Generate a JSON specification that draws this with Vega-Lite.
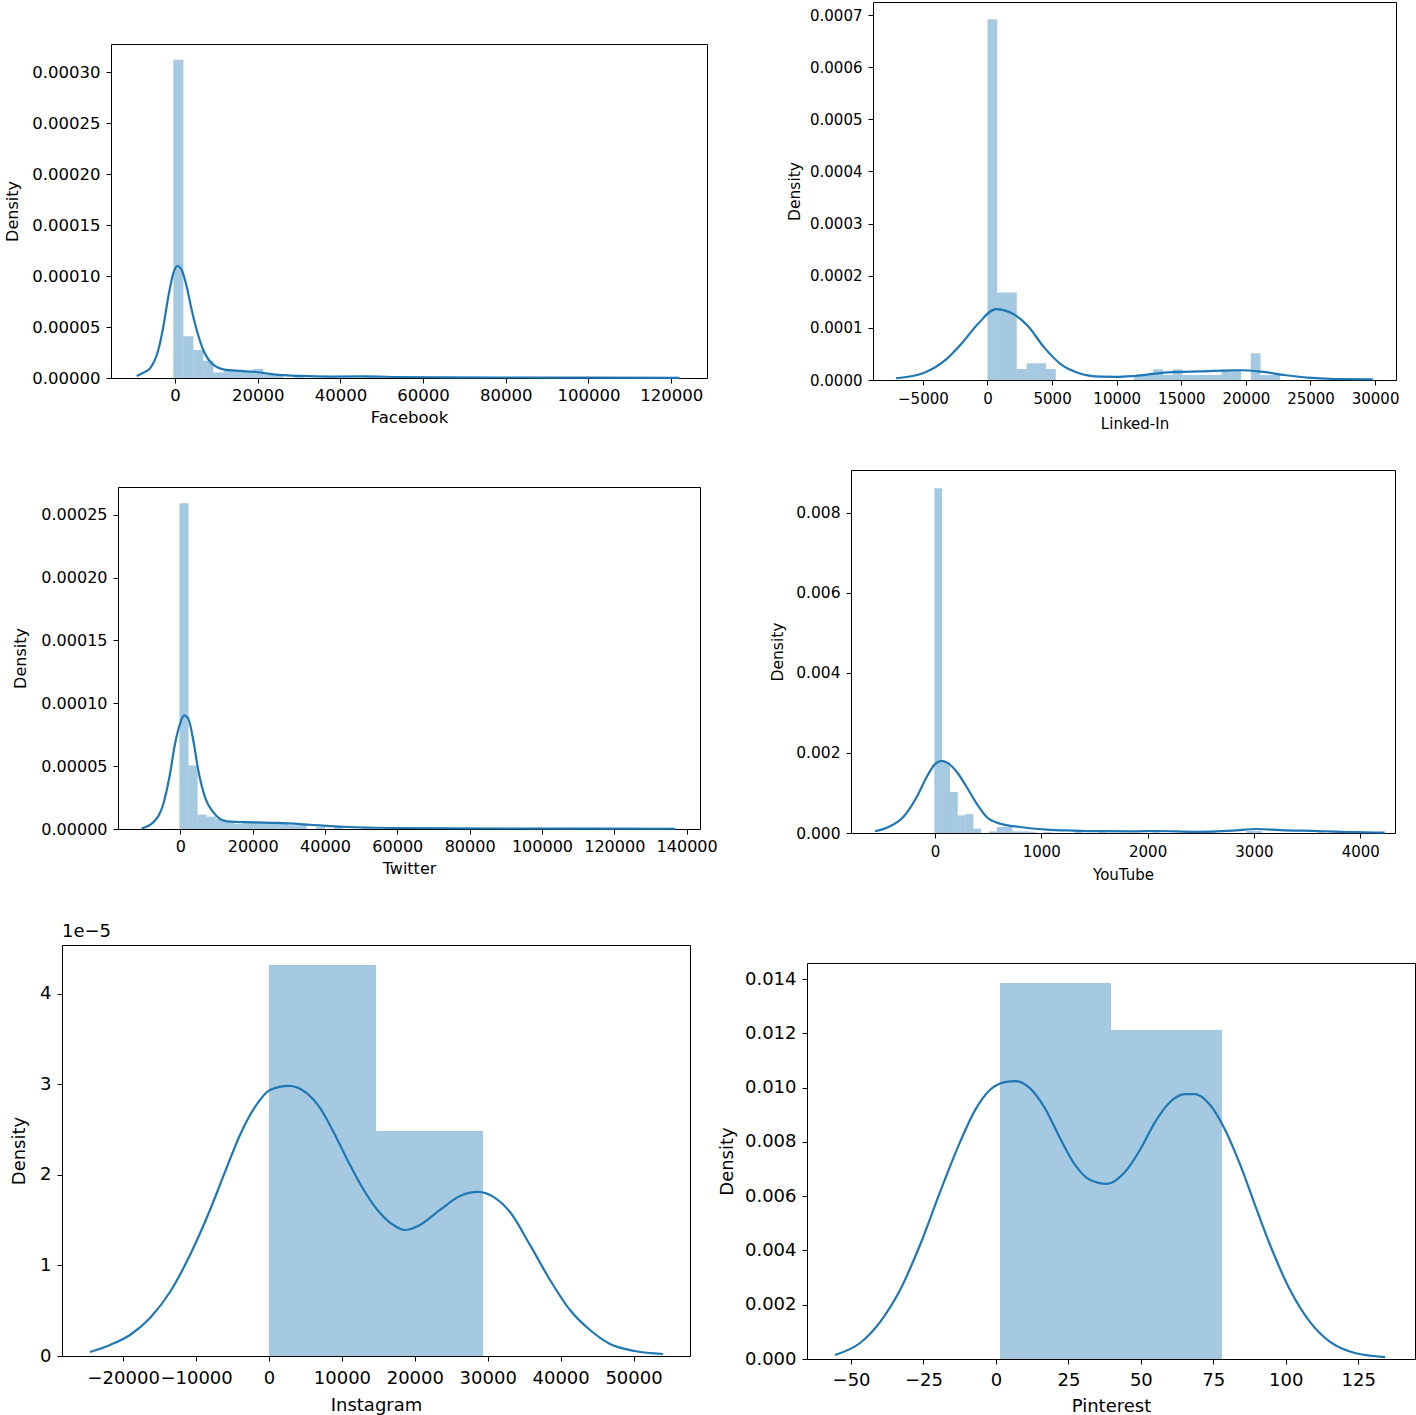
{
"$schema": "https://vega.github.io/schema/vega-lite/v6.json",
"padding": 0,
"background": "white",
"config": {
 "font": "DejaVu Sans",
 "view": {"stroke": "#000", "strokeWidth": 1},
 "axis": {"grid": false, "domain": false, "tickColor": "#000", "tickSize": 5, "labelColor": "#000", "titleColor": "#000", "labelFontSize": 16, "titleFontSize": 16, "titleFontWeight": "normal", "labelFlush": false, "labelOverlap": false, "labelPadding": 4, "titlePadding": 6, "labelFont": "DejaVu Sans", "titleFont": "DejaVu Sans"},
 "axisY": {"labelPadding": 6},
 "title": {"fontWeight": "normal", "color": "#000", "font": "DejaVu Sans"}
},
"datasets": {
 "none": [],
 "fb_hist": [
  {"x0": -400, "x1": 2020, "d": 0.000312},
  {"x0": 2020, "x1": 4440, "d": 0.000041},
  {"x0": 4440, "x1": 6860, "d": 0.0000275},
  {"x0": 6860, "x1": 9280, "d": 0.000017},
  {"x0": 9280, "x1": 11700, "d": 0.0000055},
  {"x0": 11700, "x1": 14120, "d": 0.000007},
  {"x0": 14120, "x1": 16540, "d": 0.000007},
  {"x0": 16540, "x1": 18960, "d": 0.000006},
  {"x0": 18960, "x1": 21380, "d": 0.000009},
  {"x0": 21380, "x1": 23800, "d": 0.000003},
  {"x0": 23800, "x1": 26220, "d": 0.000002},
  {"x0": 28640, "x1": 31060, "d": 0.000001},
  {"x0": 35900, "x1": 38320, "d": 0.000001},
  {"x0": 45580, "x1": 48000, "d": 0.000002},
  {"x0": 60100, "x1": 62520, "d": 0.000001},
  {"x0": 79460, "x1": 81880, "d": 0.000001},
  {"x0": 98820, "x1": 101240, "d": 0.000001},
  {"x0": 118180, "x1": 120600, "d": 0.000001}
 ],
 "fb_kde": [
  {"x0": -9262, "d": 0.000002}, {"x0": -7500, "d": 0.0000055}, {"x0": -6046, "d": 0.0000095}, {"x0": -4039, "d": 0.0000275},
  {"x0": -2830, "d": 0.0000503}, {"x0": -1620, "d": 0.0000797}, {"x0": -411, "d": 0.0001026}, {"x0": 556, "d": 0.0001098},
  {"x0": 1620, "d": 0.0001059}, {"x0": 2830, "d": 0.0000895}, {"x0": 4039, "d": 0.0000667}, {"x0": 5248, "d": 0.0000471},
  {"x0": 6844, "d": 0.0000275}, {"x0": 8875, "d": 0.0000144}, {"x0": 11681, "d": 0.0000085}, {"x0": 15719, "d": 0.0000069},
  {"x0": 18936, "d": 0.0000062}, {"x0": 23772, "d": 0.0000036}, {"x0": 30230, "d": 0.000002}, {"x0": 38000, "d": 0.0000013},
  {"x0": 46000, "d": 0.0000015}, {"x0": 54000, "d": 0.000001}, {"x0": 65000, "d": 0.0000007}, {"x0": 80000, "d": 0.0000005},
  {"x0": 100000, "d": 0.0000003}, {"x0": 122000, "d": 0.0000002}
 ],
 "li_hist": [
  {"x0": 0, "x1": 754.7, "d": 0.000692},
  {"x0": 754.7, "x1": 1509.4, "d": 0.000168},
  {"x0": 1509.4, "x1": 2264.1, "d": 0.000168},
  {"x0": 2264.1, "x1": 3018.8, "d": 0.000021},
  {"x0": 3018.8, "x1": 3773.5, "d": 0.000032},
  {"x0": 3773.5, "x1": 4528.2, "d": 0.000032},
  {"x0": 4528.2, "x1": 5282.9, "d": 0.000021},
  {"x0": 11320.5, "x1": 12075.2, "d": 0.0000096},
  {"x0": 12075.2, "x1": 12829.9, "d": 0.0000096},
  {"x0": 12829.9, "x1": 13584.6, "d": 0.0000205},
  {"x0": 13584.6, "x1": 14339.3, "d": 0.0000096},
  {"x0": 14339.3, "x1": 15094, "d": 0.0000205},
  {"x0": 15094, "x1": 15848.7, "d": 0.0000096},
  {"x0": 15848.7, "x1": 16603.4, "d": 0.0000096},
  {"x0": 16603.4, "x1": 17358.1, "d": 0.0000096},
  {"x0": 17358.1, "x1": 18112.8, "d": 0.0000096},
  {"x0": 18112.8, "x1": 18867.5, "d": 0.0000205},
  {"x0": 18867.5, "x1": 19622.2, "d": 0.0000205},
  {"x0": 20376.9, "x1": 21131.6, "d": 0.0000513},
  {"x0": 21131.6, "x1": 21886.3, "d": 0.0000096},
  {"x0": 21886.3, "x1": 22641, "d": 0.0000096}
 ],
 "li_kde": [
  {"x0": -7082, "d": 0.0000033}, {"x0": -4892, "d": 0.000014}, {"x0": -3344, "d": 0.0000365}, {"x0": -2051, "d": 0.0000687},
  {"x0": -759, "d": 0.000107}, {"x0": 658, "d": 0.000136}, {"x0": 1819, "d": 0.000129}, {"x0": 3111, "d": 0.000104},
  {"x0": 4396, "d": 0.0000621}, {"x0": 5689, "d": 0.00003}, {"x0": 6981, "d": 0.000014}, {"x0": 8785, "d": 0.0000063},
  {"x0": 10000, "d": 0.000006}, {"x0": 11339, "d": 0.0000077}, {"x0": 13947, "d": 0.0000148}, {"x0": 16525, "d": 0.0000167},
  {"x0": 19621, "d": 0.0000187}, {"x0": 21169, "d": 0.000016}, {"x0": 22972, "d": 0.0000096}, {"x0": 24783, "d": 0.0000044},
  {"x0": 26819, "d": 0.0000019}, {"x0": 29814, "d": 0.0000013}
 ],
 "tw_hist": [
  {"x0": -250, "x1": 2265, "d": 0.000259},
  {"x0": 2265, "x1": 4780, "d": 0.0000505},
  {"x0": 4780, "x1": 7295, "d": 0.0000114},
  {"x0": 7295, "x1": 9810, "d": 0.0000098},
  {"x0": 9810, "x1": 12325, "d": 0.000008},
  {"x0": 12325, "x1": 14840, "d": 0.0000053},
  {"x0": 14840, "x1": 17355, "d": 0.000004},
  {"x0": 17355, "x1": 19870, "d": 0.000005},
  {"x0": 19870, "x1": 22385, "d": 0.000006},
  {"x0": 22385, "x1": 24900, "d": 0.000005},
  {"x0": 24900, "x1": 27415, "d": 0.000004},
  {"x0": 27415, "x1": 29930, "d": 0.000004},
  {"x0": 29930, "x1": 32445, "d": 0.000003},
  {"x0": 32445, "x1": 34960, "d": 0.000003},
  {"x0": 37475, "x1": 39990, "d": 0.000002},
  {"x0": 42505, "x1": 45020, "d": 0.000002},
  {"x0": 50050, "x1": 52565, "d": 0.000001},
  {"x0": 60110, "x1": 62625, "d": 0.000001},
  {"x0": 77715, "x1": 80230, "d": 0.000001},
  {"x0": 97835, "x1": 100350, "d": 0.000001},
  {"x0": 122985, "x1": 125500, "d": 0.000001}
 ],
 "tw_kde": [
  {"x0": -10678, "d": 0.0000005}, {"x0": -7469, "d": 0.0000053}, {"x0": -4703, "d": 0.0000199}, {"x0": -2849, "d": 0.0000439},
  {"x0": -1466, "d": 0.0000678}, {"x0": -83, "d": 0.0000837}, {"x0": 1024, "d": 0.0000903}, {"x0": 2213, "d": 0.0000877},
  {"x0": 3596, "d": 0.0000704}, {"x0": 4979, "d": 0.0000465}, {"x0": 6833, "d": 0.0000252}, {"x0": 9129, "d": 0.0000132},
  {"x0": 12836, "d": 0.0000061}, {"x0": 20194, "d": 0.0000053}, {"x0": 26667, "d": 0.0000048}, {"x0": 35878, "d": 0.0000034},
  {"x0": 45090, "d": 0.0000018}, {"x0": 60775, "d": 0.0000008}, {"x0": 88437, "d": 0.0000004}, {"x0": 116100, "d": 0.0000003},
  {"x0": 136850, "d": 0.0000002}
 ],
 "yt_hist": [
  {"x0": -6, "x1": 67.4, "d": 0.00861},
  {"x0": 67.4, "x1": 140.8, "d": 0.00177},
  {"x0": 140.8, "x1": 214.2, "d": 0.001025},
  {"x0": 214.2, "x1": 287.6, "d": 0.00044},
  {"x0": 287.6, "x1": 361, "d": 0.000475},
  {"x0": 361, "x1": 434.4, "d": 0.00011},
  {"x0": 507.8, "x1": 581.2, "d": 0.00004},
  {"x0": 581.2, "x1": 654.6, "d": 0.00015},
  {"x0": 654.6, "x1": 728, "d": 0.00015},
  {"x0": 728, "x1": 801.4, "d": 0.00004},
  {"x0": 801.4, "x1": 874.8, "d": 0.00004},
  {"x0": 874.8, "x1": 948.2, "d": 0.00003},
  {"x0": 1021.6, "x1": 1095, "d": 0.00002},
  {"x0": 1315.2, "x1": 1388.6, "d": 0.00003},
  {"x0": 1535.4, "x1": 1608.8, "d": 0.00002},
  {"x0": 2049.2, "x1": 2122.6, "d": 0.00004},
  {"x0": 2563, "x1": 2636.4, "d": 0.00002},
  {"x0": 2930, "x1": 3003.4, "d": 0.00005},
  {"x0": 3003.4, "x1": 3076.8, "d": 0.00005},
  {"x0": 3590.6, "x1": 3664, "d": 0.00003}
 ],
 "yt_kde": [
  {"x0": -564, "d": 0.0000425}, {"x0": -423, "d": 0.000168}, {"x0": -298, "d": 0.0004}, {"x0": -172, "d": 0.0009},
  {"x0": -78, "d": 0.0014}, {"x0": 0, "d": 0.00172}, {"x0": 63, "d": 0.0018}, {"x0": 125, "d": 0.00174},
  {"x0": 204, "d": 0.00153}, {"x0": 298, "d": 0.00115}, {"x0": 392, "d": 0.000735}, {"x0": 486, "d": 0.0004},
  {"x0": 611, "d": 0.000235}, {"x0": 800, "d": 0.00015}, {"x0": 1051, "d": 0.000085}, {"x0": 1300, "d": 0.00006},
  {"x0": 1550, "d": 0.000045}, {"x0": 1850, "d": 0.00004}, {"x0": 2100, "d": 0.00005}, {"x0": 2450, "d": 0.00003},
  {"x0": 2800, "d": 0.00006}, {"x0": 3030, "d": 0.0001}, {"x0": 3250, "d": 0.00007}, {"x0": 3600, "d": 0.00005},
  {"x0": 3950, "d": 0.00002}, {"x0": 4230, "d": 0.00001}
 ],
 "ig_hist": [
  {"x0": 0, "x1": 14680, "d": 0.0000432},
  {"x0": 14680, "x1": 29355, "d": 0.00002486}
 ],
 "ig_kde": [
  {"x0": -24554, "d": 0.00000044}, {"x0": -21811, "d": 0.00000122}, {"x0": -19067, "d": 0.00000232}, {"x0": -16324, "d": 0.0000042},
  {"x0": -13580, "d": 0.00000707}, {"x0": -10837, "d": 0.00001116}, {"x0": -8093, "d": 0.00001613}, {"x0": -6036, "d": 0.00002033},
  {"x0": -3978, "d": 0.00002442}, {"x0": -1920, "d": 0.00002751}, {"x0": 137, "d": 0.00002939}, {"x0": 2743, "d": 0.00002983},
  {"x0": 4938, "d": 0.00002917}, {"x0": 6996, "d": 0.0000274}, {"x0": 9053, "d": 0.00002442}, {"x0": 11111, "d": 0.0000211},
  {"x0": 13169, "d": 0.00001812}, {"x0": 15226, "d": 0.0000158}, {"x0": 17284, "d": 0.00001436}, {"x0": 18656, "d": 0.00001392},
  {"x0": 20713, "d": 0.00001448}, {"x0": 23457, "d": 0.00001613}, {"x0": 26200, "d": 0.00001768}, {"x0": 28669, "d": 0.00001812},
  {"x0": 31001, "d": 0.00001746}, {"x0": 33059, "d": 0.00001591}, {"x0": 35802, "d": 0.00001227}, {"x0": 38546, "d": 0.0000084},
  {"x0": 41289, "d": 0.00000508}, {"x0": 44033, "d": 0.00000287}, {"x0": 46776, "d": 0.00000133}, {"x0": 50206, "d": 0.00000055},
  {"x0": 54047, "d": 0.00000022}
 ],
 "pi_hist": [
  {"x0": 1.4, "x1": 39.7, "d": 0.01385},
  {"x0": 39.7, "x1": 78.0, "d": 0.01212}
 ],
 "pi_kde": [
  {"x0": -55.6, "d": 0.000147}, {"x0": -46.9, "d": 0.000589}, {"x0": -40.0, "d": 0.00136}, {"x0": -33.1, "d": 0.00254},
  {"x0": -26.2, "d": 0.0042}, {"x0": -19.3, "d": 0.00615}, {"x0": -12.4, "d": 0.00799}, {"x0": -7.2, "d": 0.00917},
  {"x0": -2.1, "d": 0.00991}, {"x0": 3.1, "d": 0.0102}, {"x0": 6.9, "d": 0.01024}, {"x0": 11.7, "d": 0.00998},
  {"x0": 16.9, "d": 0.00924}, {"x0": 22.1, "d": 0.00814}, {"x0": 27.3, "d": 0.00715}, {"x0": 32.4, "d": 0.0066},
  {"x0": 38.3, "d": 0.00645}, {"x0": 44.5, "d": 0.00689}, {"x0": 49.7, "d": 0.0077}, {"x0": 54.9, "d": 0.00873},
  {"x0": 60.1, "d": 0.00947}, {"x0": 65.2, "d": 0.00976}, {"x0": 68.7, "d": 0.00976}, {"x0": 73.9, "d": 0.00936},
  {"x0": 79.1, "d": 0.00844}, {"x0": 84.3, "d": 0.00715}, {"x0": 89.4, "d": 0.00567}, {"x0": 94.6, "d": 0.0042},
  {"x0": 101.5, "d": 0.00254}, {"x0": 108.4, "d": 0.00136}, {"x0": 115.3, "d": 0.00063}, {"x0": 123.9, "d": 0.00022},
  {"x0": 134.3, "d": 0.00007}
 ]
},
"spacing": 0,
"vconcat": [
 {"spacing": 0, "hconcat": [
  {"bounds": "flush", "spacing": 0, "hconcat": [
   {"width": 111, "height": 1, "data": {"name": "none"}, "mark": "point", "view": {"stroke": null}},
   {"bounds": "flush", "spacing": 0, "vconcat": [
    {"width": 1, "height": 44, "data": {"name": "none"}, "mark": "point", "view": {"stroke": null}},
    {"width": 596, "height": 334,
     "encoding": {
      "x": {"field": "x0", "type": "quantitative", "scale": {"domain": [-15480, 128660], "nice": false, "zero": false}, "axis": {"title": "Facebook", "values": [0, 20000, 40000, 60000, 80000, 100000, 120000], "format": "d", "labelFontSize": 16.5, "titleFontSize": 16.5}},
      "y": {"field": "d", "type": "quantitative", "scale": {"domain": [0, 0.0003275], "nice": false, "zero": false}, "axis": {"title": "Density", "values": [0, 0.00005, 0.0001, 0.00015, 0.0002, 0.00025, 0.0003], "format": ".5f", "titlePadding": 11, "labelFontSize": 16.5, "titleFontSize": 16}}
     },
     "layer": [
      {"data": {"name": "fb_hist"}, "mark": {"type": "rect", "fill": "#1f77b4", "opacity": 0.4}, "encoding": {"x2": {"field": "x1"}, "y2": {"datum": 0}}},
      {"data": {"name": "fb_kde"}, "mark": {"type": "line", "color": "#1f77b4", "strokeWidth": 2.2, "interpolate": "monotone"}, "encoding": {}}
     ]
    }
   ]}
  ]},
  {"bounds": "flush", "spacing": 0, "hconcat": [
   {"width": 164.5, "height": 1, "data": {"name": "none"}, "mark": "point", "view": {"stroke": null}},
   {"bounds": "flush", "spacing": 0, "vconcat": [
    {"width": 1, "height": 2, "data": {"name": "none"}, "mark": "point", "view": {"stroke": null}},
    {"width": 523, "height": 378,
     "encoding": {
      "x": {"field": "x0", "type": "quantitative", "scale": {"domain": [-8862, 31618], "nice": false, "zero": false}, "axis": {"title": "Linked-In", "values": [-5000, 0, 5000, 10000, 15000, 20000, 25000, 30000], "format": "d", "labelPadding": 6, "titlePadding": 10, "labelFontSize": 15, "titleFontSize": 15}},
      "y": {"field": "d", "type": "quantitative", "scale": {"domain": [0, 0.000725], "nice": false, "zero": false}, "axis": {"title": "Density", "values": [0, 0.0001, 0.0002, 0.0003, 0.0004, 0.0005, 0.0006, 0.0007], "format": ".4f", "titlePadding": 7, "labelFontSize": 15, "titleFontSize": 15.5}}
     },
     "layer": [
      {"data": {"name": "li_hist"}, "mark": {"type": "rect", "fill": "#1f77b4", "opacity": 0.4}, "encoding": {"x2": {"field": "x1"}, "y2": {"datum": 0}}},
      {"data": {"name": "li_kde"}, "mark": {"type": "line", "color": "#1f77b4", "strokeWidth": 2.2, "interpolate": "monotone"}, "encoding": {}}
     ]
    }
   ]}
  ]}
 ]},
 {"spacing": 0, "hconcat": [
  {"bounds": "flush", "spacing": 0, "hconcat": [
   {"width": 118, "height": 1, "data": {"name": "none"}, "mark": "point", "view": {"stroke": null}},
   {"bounds": "flush", "spacing": 0, "vconcat": [
    {"width": 1, "height": 55, "data": {"name": "none"}, "mark": "point", "view": {"stroke": null}},
    {"width": 582, "height": 342,
     "encoding": {
      "x": {"field": "x0", "type": "quantitative", "scale": {"domain": [-17234, 143700], "nice": false, "zero": false}, "axis": {"title": "Twitter", "values": [0, 20000, 40000, 60000, 80000, 100000, 120000, 140000], "format": "d"}},
      "y": {"field": "d", "type": "quantitative", "scale": {"domain": [0, 0.000272], "nice": false, "zero": false}, "axis": {"title": "Density", "values": [0, 0.00005, 0.0001, 0.00015, 0.0002, 0.00025], "format": ".5f", "titlePadding": 12}}
     },
     "layer": [
      {"data": {"name": "tw_hist"}, "mark": {"type": "rect", "fill": "#1f77b4", "opacity": 0.4}, "encoding": {"x2": {"field": "x1"}, "y2": {"datum": 0}}},
      {"data": {"name": "tw_kde"}, "mark": {"type": "line", "color": "#1f77b4", "strokeWidth": 2.2, "interpolate": "monotone"}, "encoding": {}}
     ]
    }
   ]}
  ]},
  {"bounds": "flush", "spacing": 0, "hconcat": [
   {"width": 133, "height": 1, "data": {"name": "none"}, "mark": "point", "view": {"stroke": null}},
   {"bounds": "flush", "spacing": 0, "vconcat": [
    {"width": 1, "height": 38, "data": {"name": "none"}, "mark": "point", "view": {"stroke": null}},
    {"width": 544, "height": 363,
     "encoding": {
      "x": {"field": "x0", "type": "quantitative", "scale": {"domain": [-790, 4327], "nice": false, "zero": false}, "axis": {"title": "YouTube", "values": [0, 1000, 2000, 3000, 4000], "format": "d", "labelPadding": 6, "titlePadding": 8, "labelFontSize": 15, "titleFontSize": 15}},
      "y": {"field": "d", "type": "quantitative", "scale": {"domain": [0, 0.009068], "nice": false, "zero": false}, "axis": {"title": "Density", "values": [0, 0.002, 0.004, 0.006, 0.008], "format": ".3f", "titlePadding": 10, "labelFontSize": 15.5, "titleFontSize": 15.5}}
     },
     "layer": [
      {"data": {"name": "yt_hist"}, "mark": {"type": "rect", "fill": "#1f77b4", "opacity": 0.4}, "encoding": {"x2": {"field": "x1"}, "y2": {"datum": 0}}},
      {"data": {"name": "yt_kde"}, "mark": {"type": "line", "color": "#1f77b4", "strokeWidth": 2.2, "interpolate": "monotone"}, "encoding": {}}
     ]
    }
   ]}
  ]}
 ]},
 {"spacing": 0, "hconcat": [
  {"bounds": "flush", "spacing": 0, "hconcat": [
   {"width": 62, "height": 1, "data": {"name": "none"}, "mark": "point", "view": {"stroke": null}},
   {"bounds": "flush", "spacing": 0, "vconcat": [
    {"width": 1, "height": 62, "data": {"name": "none"}, "mark": "point", "view": {"stroke": null}},
    {"width": 628, "height": 411,
     "title": {"text": "1e\u22125", "fontSize": 18, "offset": 4, "anchor": "start", "frame": "group"},
     "encoding": {
      "x": {"field": "x0", "type": "quantitative", "scale": {"domain": [-28395, 57750], "nice": false, "zero": false}, "axis": {"title": "Instagram", "values": [-20000, -10000, 0, 10000, 20000, 30000, 40000, 50000], "format": "d", "labelFontSize": 18, "titleFontSize": 18, "labelPadding": 8, "titlePadding": 9}},
      "y": {"field": "d", "type": "quantitative", "scale": {"domain": [0, 0.0000454], "nice": false, "zero": false}, "axis": {"title": "Density", "values": [0, 0.00001, 0.00002, 0.00003, 0.00004], "labelExpr": "format(datum.value * 100000, '.0f')", "labelFontSize": 18, "titleFontSize": 18, "titlePadding": 11}}
     },
     "layer": [
      {"data": {"name": "ig_hist"}, "mark": {"type": "rect", "fill": "#1f77b4", "opacity": 0.4}, "encoding": {"x2": {"field": "x1"}, "y2": {"datum": 0}}},
      {"data": {"name": "ig_kde"}, "mark": {"type": "line", "color": "#1f77b4", "strokeWidth": 2.2, "interpolate": "monotone"}, "encoding": {}}
     ]
    }
   ]}
  ]},
  {"bounds": "flush", "spacing": 0, "hconcat": [
   {"width": 115.5, "height": 1, "data": {"name": "none"}, "mark": "point", "view": {"stroke": null}},
   {"bounds": "flush", "spacing": 0, "vconcat": [
    {"width": 1, "height": 80, "data": {"name": "none"}, "mark": "point", "view": {"stroke": null}},
    {"width": 608, "height": 396,
     "encoding": {
      "x": {"field": "x0", "type": "quantitative", "scale": {"domain": [-65.2, 144.6], "nice": false, "zero": false}, "axis": {"title": "Pinterest", "values": [-50, -25, 0, 25, 50, 75, 100, 125], "format": "d", "labelFontSize": 18, "titleFontSize": 18, "labelPadding": 7, "titlePadding": 8}},
      "y": {"field": "d", "type": "quantitative", "scale": {"domain": [0, 0.01459], "nice": false, "zero": false}, "axis": {"title": "Density", "values": [0, 0.002, 0.004, 0.006, 0.008, 0.01, 0.012, 0.014], "format": ".3f", "labelFontSize": 18, "titleFontSize": 18, "titlePadding": 8}}
     },
     "layer": [
      {"data": {"name": "pi_hist"}, "mark": {"type": "rect", "fill": "#1f77b4", "opacity": 0.4}, "encoding": {"x2": {"field": "x1"}, "y2": {"datum": 0}}},
      {"data": {"name": "pi_kde"}, "mark": {"type": "line", "color": "#1f77b4", "strokeWidth": 2.2, "interpolate": "monotone"}, "encoding": {}}
     ]
    }
   ]}
  ]}
 ]}
]
}
